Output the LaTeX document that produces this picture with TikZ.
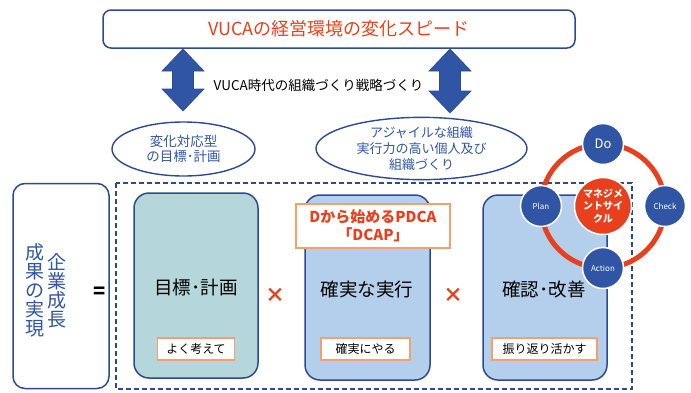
\documentclass[tikz,border=0pt]{standalone}
\usepackage{fontspec}
\setmainfont{Noto Sans CJK JP}
\usetikzlibrary{shapes.geometric}
\definecolor{dblue}{HTML}{2C4A94}
\definecolor{ablue}{HTML}{2F55A4}
\definecolor{vred}{HTML}{E8401C}
\definecolor{teal1}{HTML}{B5D6DB}
\definecolor{lblue}{HTML}{B4CFEC}
\definecolor{orng}{HTML}{F4A06A}
\tikzset{
  panel/.style={draw=dblue, line width=1.5pt, rounded corners=15pt},
  tag/.style={draw=orng, line width=1.2pt, fill=white, minimum height=22pt, inner sep=2pt, font=\fontsize{12}{14}\selectfont},
  cyc/.style={circle, fill=ablue, draw=white, line width=1.5pt, minimum size=41pt, inner sep=0pt, text=white},
  darr/.style={fill=ablue, draw=dblue, line width=0.6pt},
  times/.style={text=vred, font=\fontsize{20}{20}\selectfont\bfseries},
  ell/.style={ellipse, draw=dblue, line width=1.4pt, inner sep=0pt, align=center, text=ablue},
  big/.style={font=\fontsize{18.5}{20}\selectfont},
}
\begin{document}
\begin{tikzpicture}[x=1pt,y=-1pt]
\useasboundingbox (0,0) rectangle (691,392);
% top box
\node[draw=dblue, line width=1.5pt, rounded corners=8pt, minimum width=472pt, minimum height=38pt, text=vred, font=\fontsize{18}{20}\selectfont] (top) at (339,29) {VUCAの経営環境の変化スピード};
% double arrows
\foreach \n/\cx/\ya/\yb in {arrL/183/49/111, arrR/450/49/113}{
  \path[darr] (\cx,\ya) -- (\cx+21,\ya+22) -- (\cx+10.5,\ya+22) -- (\cx+10.5,\yb-22) -- (\cx+21,\yb-22) -- (\cx,\yb) -- (\cx-21,\yb-22) -- (\cx-10.5,\yb-22) -- (\cx-10.5,\ya+22) -- (\cx-21,\ya+22) -- cycle;
}
\node[font=\fontsize{13.5}{15}\selectfont] (vuca) at (318.5,85) {VUCA時代の組織づくり戦略づくり};
% ellipses
\node[ell, minimum width=143pt, minimum height=54pt, font=\fontsize{13.5}{15.5}\selectfont] (e1) at (183.5,149) {変化対応型\\の目標･計画};
\node[ell, minimum width=211pt, minimum height=59pt, font=\fontsize{13}{16}\selectfont] (e2) at (421.5,148.5) {アジャイルな組織\\実行力の高い個人及び\\組織づくり};
% left box
\node[panel, rounded corners=12pt, fill=white, minimum width=96pt, minimum height=205pt] (res) at (61,286) {};
\node[text=ablue, font=\fontsize{19}{19}\selectfont, align=center] (c1) at (57,290.5) {企\\業\\成\\長};
\node[text=ablue, font=\fontsize{19}{19}\selectfont, align=center] (c2) at (35,290.5) {成\\果\\の\\実\\現};
\node[font=\fontsize{20}{20}\selectfont\bfseries] (eq) at (100,293) {=};
% dashed frame
\draw[dblue, line width=1.5pt, dash pattern=on 5pt off 3pt] (116,183) rectangle (632,389);
% panels
\node[panel, fill=teal1, minimum width=124pt, minimum height=185pt] (p1) at (196,285.5) {};
\node[big] (t1) at (196,287) {目標･計画};
\node[tag, minimum width=77pt] (g1) at (196,349) {よく考えて};
\node[times] (x1) at (275,295) {×};
\node[panel, fill=lblue, minimum width=125pt, minimum height=185pt] (p2) at (367.5,287.5) {};
\node[draw=orng, line width=1.2pt, fill=white, minimum width=154pt, minimum height=44pt, align=center, text=vred, font=\fontsize{15}{18}\selectfont\bfseries] (dcap) at (373,226) {Dから始めるPDCA\\「DCAP」};
\node[big] (t2) at (367,289) {確実な実行};
\node[tag, minimum width=89pt] (g2) at (365.5,349) {確実にやる};
\node[times] (x2) at (453,295) {×};
\node[panel, fill=lblue, minimum width=124pt, minimum height=185pt] (p3) at (545,287.5) {};
\node[big] (t3) at (544,289) {確認･改善};
\node[tag, minimum width=105pt] (g3) at (544.5,349) {振り返り活かす};
% management cycle
\node[circle, draw=vred, line width=5pt, minimum size=124pt, inner sep=0pt] (ring) at (603,206) {};
\node[circle, fill=vred, draw=white, line width=1.5pt, minimum size=57pt, inner sep=0pt, align=center, text=white, font=\fontsize{10}{12.5}\selectfont\bfseries] (mc) at (603,206) {マネジメ\\ントサイ\\クル};
\node[cyc, font=\fontsize{13}{13}\selectfont] (do) at (603,144) {Do};
\node[cyc, font=\fontsize{8}{8}\selectfont] (plan) at (541,206) {Plan};
\node[cyc, font=\fontsize{8}{8}\selectfont] (check) at (665,206) {Check};
\node[cyc, font=\fontsize{8}{8}\selectfont] (act) at (603,268) {Action};
\end{tikzpicture}
\end{document}
